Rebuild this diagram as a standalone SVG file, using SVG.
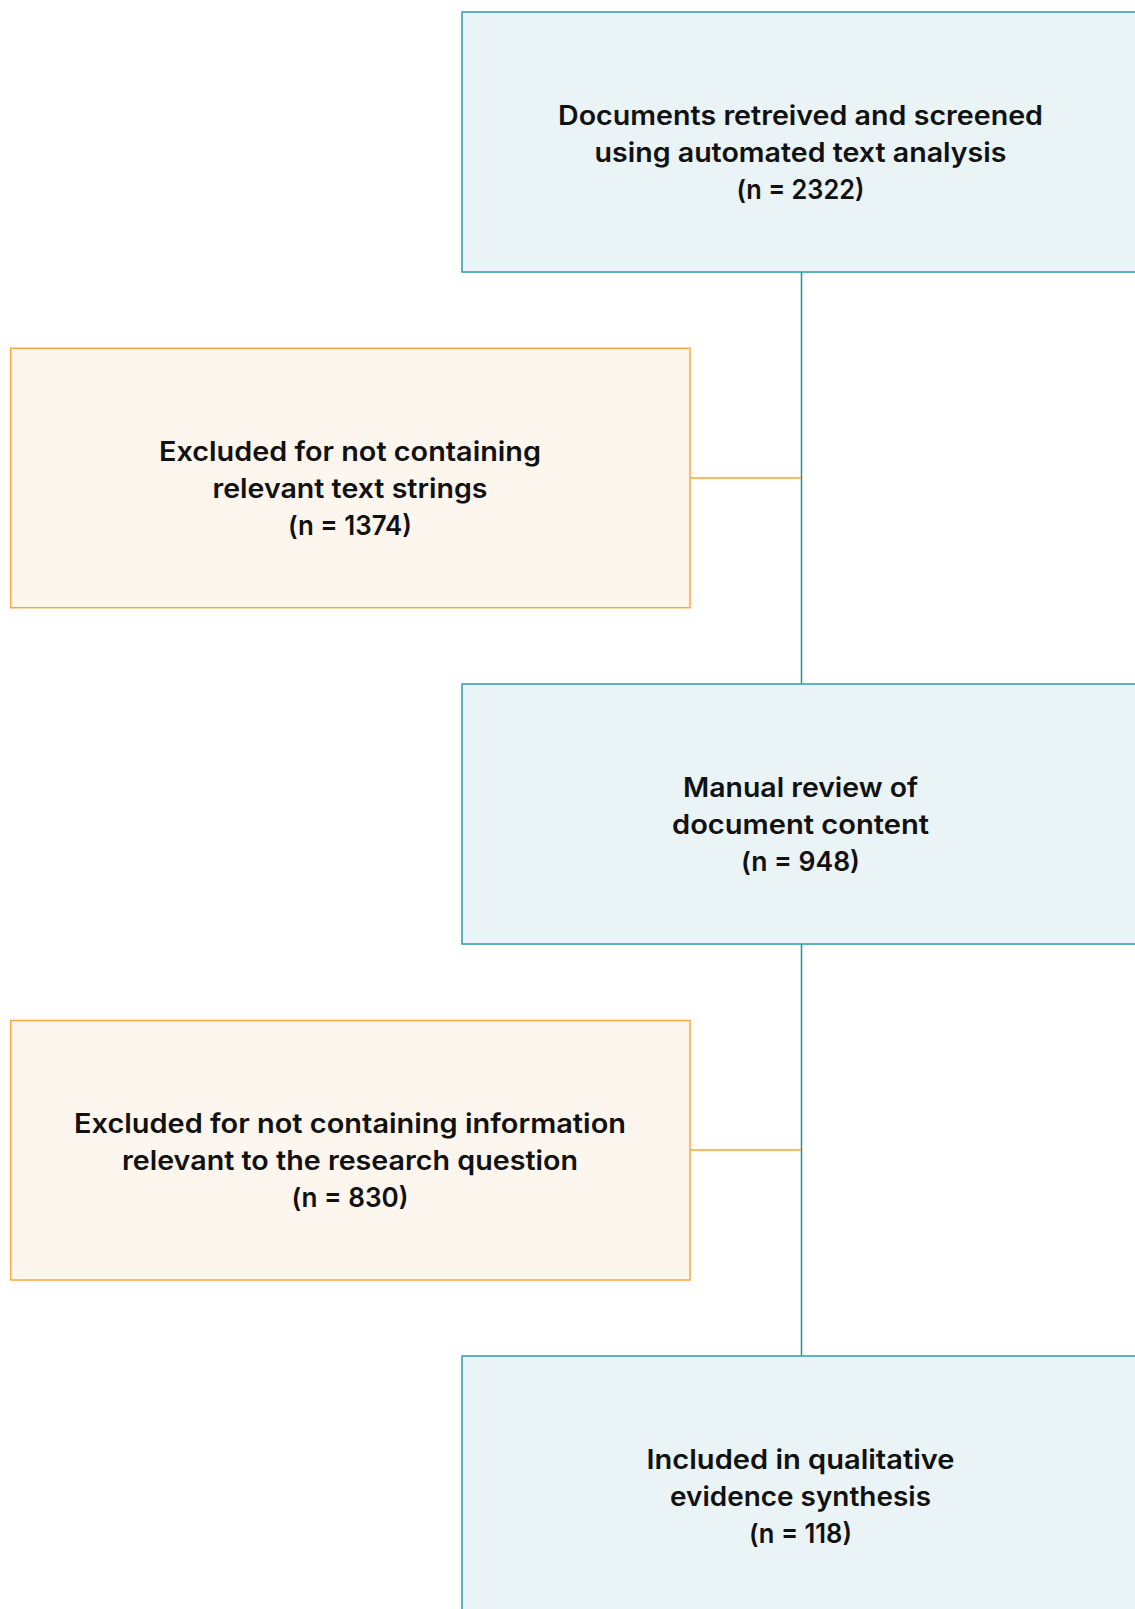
<svg xmlns="http://www.w3.org/2000/svg" width="1135" height="1609" viewBox="0 0 1135 1609">
<style>
.blue{fill:#EAF3F6;stroke:#2C9CAE;stroke-width:1.5}
.orange{fill:#FDF6EF;stroke:#F9AA3C;stroke-width:1.5}
.t{font-family:Inter,"Noto Sans","Liberation Sans",sans-serif;font-weight:600;font-size:26.5px;fill:#111;text-anchor:middle}
.vc{stroke:#1F8FA2;stroke-width:1.5;fill:none}
.hc{stroke:#F6A536;stroke-width:1.5;fill:none}
</style>
<rect width="1135" height="1609" fill="#fff"/>
<g id="connectors">
<line class="vc" x1="801.5" y1="272" x2="801.5" y2="684"/>
<line class="vc" x1="801.5" y1="944" x2="801.5" y2="1356"/>
<line class="hc" x1="690" y1="478" x2="801" y2="478"/>
<line class="hc" x1="690" y1="1150" x2="801" y2="1150"/>
</g>
<g id="node1">
<rect class="blue" x="462" y="12" width="700" height="260"/>
<text class="t" x="800.5" y="124.5" textLength="485" lengthAdjust="spacingAndGlyphs">Documents retreived and screened</text>
<text class="t" x="800.5" y="161.5" textLength="412" lengthAdjust="spacingAndGlyphs">using automated text analysis</text>
<text class="t" x="800.5" y="198.5" textLength="128" lengthAdjust="spacingAndGlyphs">(n = 2322)</text>
</g>
<g id="node2">
<rect class="orange" x="10.7" y="348.3" width="679.3" height="259.4"/>
<text class="t" x="350" y="460.5" textLength="382" lengthAdjust="spacingAndGlyphs">Excluded for not containing</text>
<text class="t" x="350" y="497.5" textLength="275" lengthAdjust="spacingAndGlyphs">relevant text strings</text>
<text class="t" x="350" y="534.5" textLength="124" lengthAdjust="spacingAndGlyphs">(n = 1374)</text>
</g>
<g id="node3">
<rect class="blue" x="462" y="684" width="700" height="260"/>
<text class="t" x="800.5" y="796.5" textLength="235" lengthAdjust="spacingAndGlyphs">Manual review of</text>
<text class="t" x="800.5" y="833.5" textLength="257" lengthAdjust="spacingAndGlyphs">document content</text>
<text class="t" x="800.5" y="870.5" textLength="119" lengthAdjust="spacingAndGlyphs">(n = 948)</text>
</g>
<g id="node4">
<rect class="orange" x="10.7" y="1020.5" width="679.3" height="259.5"/>
<text class="t" x="350" y="1132.5" textLength="552" lengthAdjust="spacingAndGlyphs">Excluded for not containing information</text>
<text class="t" x="350" y="1169.5" textLength="456" lengthAdjust="spacingAndGlyphs">relevant to the research question</text>
<text class="t" x="350" y="1206.5" textLength="117" lengthAdjust="spacingAndGlyphs">(n = 830)</text>
</g>
<g id="node5">
<rect class="blue" x="462" y="1356" width="700" height="300"/>
<text class="t" x="800.5" y="1468.5" textLength="308" lengthAdjust="spacingAndGlyphs">Included in qualitative</text>
<text class="t" x="800.5" y="1505.5" textLength="261" lengthAdjust="spacingAndGlyphs">evidence synthesis</text>
<text class="t" x="800.5" y="1542.5" textLength="103" lengthAdjust="spacingAndGlyphs">(n = 118)</text>
</g>
</svg>
